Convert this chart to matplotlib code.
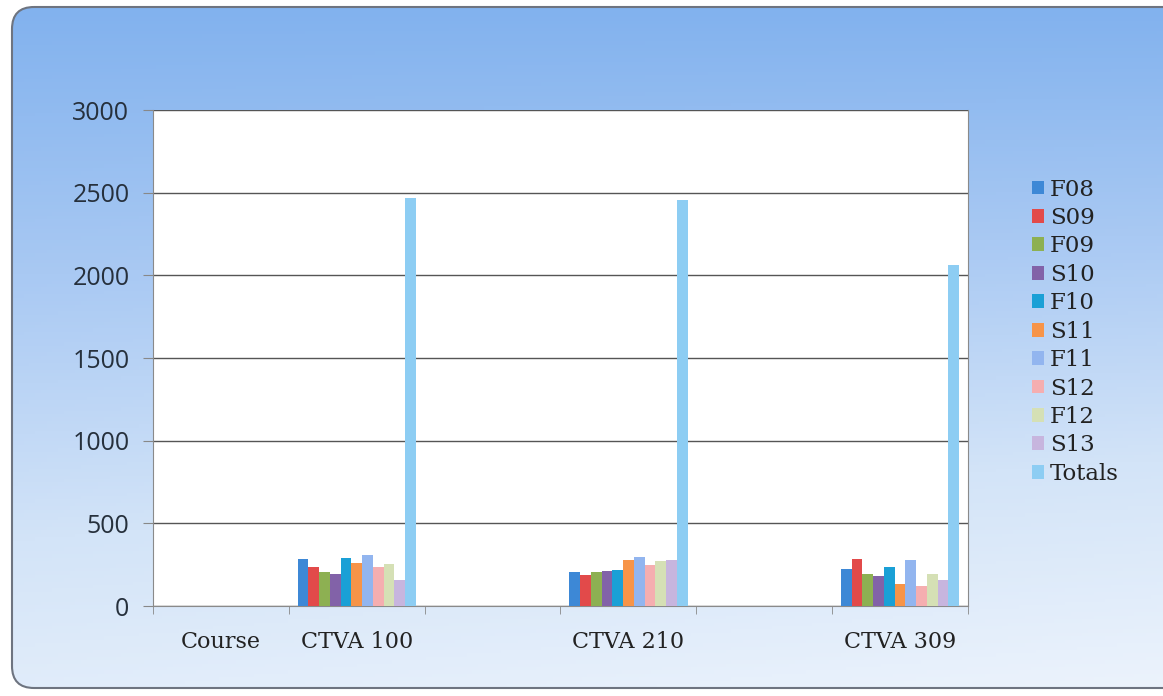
import numpy as np
import matplotlib
matplotlib.use("Agg")
import matplotlib.pyplot as plt
from matplotlib.patches import FancyBboxPatch
from matplotlib.colors import LinearSegmentedColormap

categories = ["Course", "CTVA 100", "", "CTVA 210", "", "CTVA 309"]
series = ["F08", "S09", "F09", "S10", "F10", "S11", "F11", "S12", "F12", "S13", "Totals"]
# values per series for each category
ctva100 = [283, 234, 206, 196, 289, 262, 311, 234, 252, 157, 2468]
ctva210 = [208, 188, 208, 211, 216, 278, 296, 250, 270, 280, 2456]
ctva309 = [226, 284, 194, 180, 236, 131, 276, 123, 194, 157, 2063]
colors = ["#3d88d6", "#e24a4a", "#8db052", "#8262a8", "#1aa0d6", "#f79448",
          "#92b5ef", "#f5aeb0", "#d5e0b5", "#c7b5de", "#8dcdf3"]
yticks = [0, 500, 1000, 1500, 2000, 2500, 3000]

W, H = 1163, 696
fig = plt.figure(figsize=(W / 100, H / 100), dpi=100)
fig.patch.set_facecolor("white")

# background gradient
bg = fig.add_axes([0, 0, 1, 1], zorder=-10)
bg.set_xlim(0, W)
bg.set_ylim(H, 0)
bg.axis("off")
cmap = LinearSegmentedColormap.from_list("bgc", ["#82b2ee", "#a9c9f3", "#d3e4f8", "#ecf3fc"])
yy, xx = np.mgrid[0:1:200j, 0:1:200j]
grad = np.clip(yy * 0.85 + yy * xx * 0.15, 0, 1)
box = FancyBboxPatch((12, 7), W + 30, H - 15, boxstyle="round,pad=0,rounding_size=22",
                     linewidth=1.5, edgecolor="#6e7480", facecolor="none")
bg.add_patch(box)
im = bg.imshow(grad, cmap=cmap, extent=[12, W, H - 5, 7], aspect="auto", zorder=0)
im.set_clip_path(box)

ax = fig.add_axes([153 / W, 1 - 606 / H, (968 - 153) / W, (606 - 110) / H])
ax.set_facecolor("white")

n = len(series)
group = 0.87
bw = group / n
x = np.arange(len(categories))
data_rows = {1: ctva100, 3: ctva210, 5: ctva309}
for j, s in enumerate(series):
    xs = []
    vs = []
    for ci, row in data_rows.items():
        xs.append(ci - group / 2 + bw * (j + 0.5))
        vs.append(row[j])
    ax.bar(xs, vs, width=bw, color=colors[j], label=s, zorder=3, linewidth=0)

ax.set_xlim(-0.5, len(categories) - 0.5)
ax.set_ylim(0, 3000)
ax.set_yticks(yticks)
ax.set_yticklabels([str(v) for v in yticks], fontsize=18, color="#26303c", family="Open Sans")
ax.yaxis.grid(True, color="#555555", linewidth=1.0, zorder=1)
ax.tick_params(axis="y", length=7, color="#888888", pad=10)
ax.set_xticks(x)
ax.set_xticklabels(categories, fontsize=16, color="#222222", family="DejaVu Serif")
ax.set_xticks(np.arange(len(categories) + 1) - 0.5, minor=True)
ax.tick_params(axis="x", which="major", length=0, pad=18)
ax.tick_params(axis="x", which="minor", length=6, color="#888888")
for sp in ["left", "bottom", "right"]:
    ax.spines[sp].set_color("#8a8a8a")
ax.spines["top"].set_visible(False)

leg = ax.legend(loc="center left", bbox_to_anchor=(1.078, 0.553), frameon=False,
                prop={"family": "DejaVu Serif", "size": 16.5}, handlelength=0.55,
                handleheight=0.55, handletextpad=0.25, labelspacing=0.28,
                borderpad=0, borderaxespad=0)
for t in leg.get_texts():
    t.set_color("#222222")

fig.savefig("out.png", dpi=100)
